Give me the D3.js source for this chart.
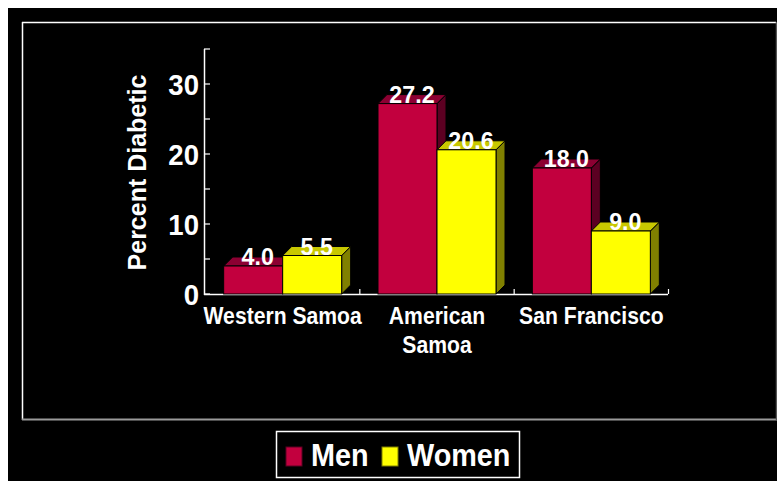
<!DOCTYPE html>
<html>
<head>
<meta charset="utf-8">
<script src="https://cdn.jsdelivr.net/npm/d3@7"></script>
<style>
  body { margin: 0; background: #fff; }
  text { font-family: "Liberation Sans", Arial, sans-serif; font-weight: bold; fill: #fff; }
</style>
</head>
<body>
<svg id="chart" width="777" height="481"></svg>
<script>
// chart data
var categories = ['Western Samoa', 'American Samoa', 'San Francisco'];
var categoryLines = [['Western Samoa'], ['American', 'Samoa'], ['San Francisco']];
var seriesNames = ['Men', 'Women'];
var men = [4.0, 27.2, 18.0];
var women = [5.5, 20.6, 9.0];
var yTicks = [0, 10, 20, 30];

// colours for each series: front, top, side
var faceColors = {
    Men: { front: '#c2003e', top: '#8c0032', side: '#5c0022' },
    Women: { front: '#ffff00', top: '#c8c800', side: '#808000' }
};

var svg = d3.select('#chart');

// black slide background and bevelled frame
svg.append('rect').attr('x', 8).attr('y', 8).attr('width', 769).attr('height', 473).attr('fill', '#000');
svg.append('line').attr('x1', 22).attr('x2', 776).attr('y1', 22.5).attr('y2', 22.5).attr('stroke', '#fff').attr('stroke-width', 1.5);
svg.append('line').attr('x1', 22.5).attr('x2', 22.5).attr('y1', 22).attr('y2', 420).attr('stroke', '#fff').attr('stroke-width', 1.5);
svg.append('line').attr('x1', 22).attr('x2', 777).attr('y1', 419.5).attr('y2', 419.5).attr('stroke', '#9a9a9a').attr('stroke-width', 2);
svg.append('line').attr('x1', 776.5).attr('x2', 776.5).attr('y1', 22).attr('y2', 420).attr('stroke', '#555').attr('stroke-width', 1.5);

// scales
var x0 = d3.scaleBand().domain(categories).range([205.5, 668.5]);
var y = d3.scaleLinear().domain([0, 35]).range([294, 49]);
var barW = 59;
var groupPad = (x0.bandwidth() - 2 * barW) / 2;
var depth = 9;

// helper for horizontally squeezed text
function stext(g, x, yy, str, size, sx, anchor) {
    return g.append('text')
        .attr('transform', 'translate(' + x + ',' + yy + ') scale(' + sx + ',1)')
        .attr('text-anchor', anchor || 'middle')
        .style('font-size', size + 'px')
        .text(str);
}

// axes
var axisG = svg.append('g');
axisG.append('line').attr('x1', 204.5).attr('x2', 204.5).attr('y1', y(35)).attr('y2', y(0) + 1)
    .attr('stroke', '#fff').attr('stroke-width', 1.5);
axisG.append('line').attr('x1', 204).attr('x2', 668).attr('y1', y(0) + 0.5).attr('y2', y(0) + 0.5)
    .attr('stroke', '#fff').attr('stroke-width', 1.5);
d3.range(0, 36, 5).forEach(function (t) {
    axisG.append('line').attr('x1', 204).attr('x2', 210).attr('y1', y(t)).attr('y2', y(t))
        .attr('stroke', '#fff').attr('stroke-width', 1.2);
});
var xTickPos = [];
categories.forEach(function (c) {
    xTickPos.push(x0(c) + x0.bandwidth() / 2);
    xTickPos.push(x0(c) + x0.bandwidth());
});
xTickPos.forEach(function (p) {
    axisG.append('line').attr('x1', p).attr('x2', p).attr('y1', y(0) - 5).attr('y2', y(0))
        .attr('stroke', '#fff').attr('stroke-width', 1.2);
});
yTicks.forEach(function (t) {
    stext(axisG, 199, y(t) + 11, t, 29, 0.95, 'end');
});

// y title
svg.append('text')
    .attr('transform', 'translate(146,172.5) rotate(-90)')
    .attr('text-anchor', 'middle')
    .style('font-size', '25px')
    .text('Percent Diabetic');

// category labels
categoryLines.forEach(function (lines, i) {
    var cx = x0(categories[i]) + x0.bandwidth() / 2;
    lines.forEach(function (l, j) {
        stext(svg, cx, 324 + j * 29, l, 23, 0.92, 'middle');
    });
});

// 3D bars
var barsG = svg.append('g');
function drawBar(name, value, xLeft) {
    var c = faceColors[name];
    var top = y(value), base = y(0);
    var xr = xLeft + barW;
    // side face
    barsG.append('path')
        .attr('d', 'M' + xr + ',' + top + 'L' + (xr + depth) + ',' + (top - depth) + 'L' + (xr + depth) + ',' + (base - depth) + 'L' + xr + ',' + base + 'Z')
        .attr('fill', c.side).attr('stroke', '#000').attr('stroke-width', 1);
    // top face
    barsG.append('path')
        .attr('d', 'M' + xLeft + ',' + top + 'L' + (xLeft + depth) + ',' + (top - depth) + 'L' + (xr + depth) + ',' + (top - depth) + 'L' + xr + ',' + top + 'Z')
        .attr('fill', c.top).attr('stroke', '#000').attr('stroke-width', 1);
    // front face
    barsG.append('rect')
        .attr('x', xLeft).attr('y', top).attr('width', barW).attr('height', base - top)
        .attr('fill', c.front).attr('stroke', '#000').attr('stroke-width', 1);
}
categories.forEach(function (cat, i) {
    var xs = x0(cat) + groupPad;
    drawBar('Men', men[i], xs);
    drawBar('Women', women[i], xs + barW);
});
// value labels on top
categories.forEach(function (cat, i) {
    var xs = x0(cat) + groupPad;
    stext(svg, xs + barW / 2 + depth / 2, y(men[i]) - 1, men[i].toFixed(1), 24, 0.97, 'middle');
    stext(svg, xs + barW * 1.5 + depth / 2, y(women[i]) - 1, women[i].toFixed(1), 24, 0.97, 'middle');
});

// legend
var legend = svg.append('g');
legend.append('rect').attr('x', 276.5).attr('y', 431.5).attr('width', 243).attr('height', 46)
    .attr('fill', '#000').attr('stroke', '#fff').attr('stroke-width', 1.5);
var legendItems = [
    { name: seriesNames[0], sq: 286, tx: 311 },
    { name: seriesNames[1], sq: 382, tx: 407 }
];
legendItems.forEach(function (d) {
    legend.append('rect').attr('x', d.sq).attr('y', 447).attr('width', 16).attr('height', 19)
        .attr('fill', faceColors[d.name].front).attr('stroke', faceColors[d.name].side).attr('stroke-width', 1);
    stext(legend, d.tx, 466, d.name, 32, 0.9, 'start');
});
</script>
</body>
</html>
